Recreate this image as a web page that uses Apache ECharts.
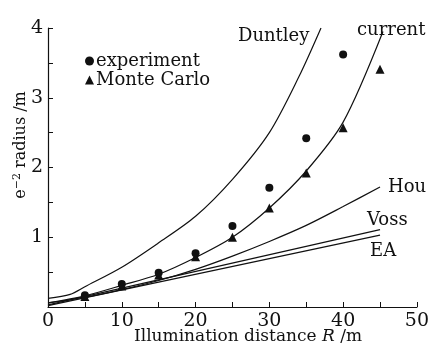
<!DOCTYPE html>
<html>
<head>
<meta charset="utf-8">
<script src="https://cdn.jsdelivr.net/npm/echarts@6/dist/echarts.min.js"></script>
<style>
  html, body { margin: 0; padding: 0; background: #fff; }
  #chart { width: 432px; height: 349px; }
</style>
</head>
<body>
<div id="chart"></div>
<script>
// measured points (R in m, radius in m)
const expR = [5, 10, 15, 20, 25, 30, 35, 40];
const expY = [0.17, 0.33, 0.49, 0.77, 1.16, 1.71, 2.42, 3.62];
const mcR = [5, 10, 15, 20, 25, 30, 35, 40, 45];
const mcY = [0.15, 0.3, 0.46, 0.72, 1.0, 1.42, 1.92, 2.57, 3.41];

// model curves
const duntleyR = [0, 3, 5, 10, 15, 20, 25, 30, 34, 37];
const duntleyY = [0.125, 0.18, 0.29, 0.57, 0.92, 1.3, 1.83, 2.5, 3.3, 4.0];
const currentR = [0, 5, 10, 15, 20, 25, 30, 35, 40, 45.4];
const currentY = [0.06, 0.16, 0.31, 0.47, 0.71, 1.0, 1.42, 1.95, 2.65, 3.95];
const houR = [0, 5, 10, 15, 20, 25, 30, 35, 40, 45];
const houY = [0.06, 0.14, 0.25, 0.38, 0.54, 0.73, 0.94, 1.17, 1.44, 1.72];
const vossR = [0, 45];
const vossY = [0.03, 1.11];
const eaR = [0, 45];
const eaY = [0.02, 1.03];

const FONT = "DejaVu Serif";
const INK = "#111";
const zip = (a, b) => a.map((v, i) => [v, b[i]]);

const curve = (name, xs, ys) => ({
  name: name,
  type: "line",
  data: zip(xs, ys),
  smooth: 0.3,
  showSymbol: false,
  silent: true,
  lineStyle: { color: INK, width: 1.2 },
  z: 2,
});

const label = (text, left, top) => ({
  type: "text", left: left, top: top,
  style: { text: text, font: "18px " + FONT, fill: INK },
});

const chart = echarts.init(document.getElementById("chart"));
chart.setOption({
  animation: false,
  grid: { left: 48, right: 11, top: 28, bottom: 42 },
  xAxis: {
    type: "value",
    min: 0,
    max: 50,
    interval: 5,
    axisLine: { lineStyle: { color: INK, width: 1.2 } },
    axisTick: { inside: true, length: 5, lineStyle: { color: INK } },
    axisLabel: {
      fontFamily: FONT, fontSize: 19, color: INK, margin: 5,
      formatter: (v) => (v % 10 === 0 ? String(v) : ""),
    },
    splitLine: { show: false },
  },
  yAxis: {
    type: "value",
    min: 0,
    max: 4,
    interval: 0.5,
    axisLine: { show: true, lineStyle: { color: INK, width: 1.2 } },
    axisTick: { inside: true, length: 5, lineStyle: { color: INK } },
    axisLabel: {
      fontFamily: FONT, fontSize: 19, color: INK, margin: 5,
      formatter: (v) => (v > 0 && v % 1 === 0 ? String(v) : ""),
    },
    splitLine: { show: false },
  },
  legend: {
    orient: "vertical",
    left: 80,
    top: 47,
    itemGap: 1,
    itemWidth: 9,
    itemHeight: 9,
    selectedMode: false,
    textStyle: { fontFamily: FONT, fontSize: 18, color: INK, padding: [0, 0, 0, -3] },
    data: [
      { name: "experiment", icon: "circle" },
      { name: "Monte Carlo", icon: "triangle" },
    ],
  },
  graphic: [
    label("Duntley", 238, 27),
    label("current", 357, 21),
    label("Hou", 388, 178),
    label("Voss", 367, 211),
    label("EA", 370, 242),
    {
      type: "text", x: 248, y: 337,
      style: {
        text: "Illumination distance {i|R} /m",
        font: "17px " + FONT, fill: INK, align: "center", verticalAlign: "middle",
        rich: { i: { font: "italic 17px " + FONT, fill: INK } },
      },
    },
    {
      type: "text", x: 21, y: 145, rotation: Math.PI / 2,
      style: {
        text: "e{s|−2} radius /m",
        font: "16px " + FONT, fill: INK, align: "center", verticalAlign: "middle",
        rich: { s: { font: "11px " + FONT, fill: INK, verticalAlign: "top", padding: [0, 0, 8, 0] } },
      },
    },
  ],
  series: [
    curve("Duntley", duntleyR, duntleyY),
    curve("current", currentR, currentY),
    curve("Hou", houR, houY),
    curve("Voss", vossR, vossY),
    curve("EA", eaR, eaY),
    {
      name: "experiment",
      type: "scatter",
      symbol: "circle",
      symbolSize: 8,
      data: zip(expR, expY),
      itemStyle: { color: INK, opacity: 1 },
      z: 3,
    },
    {
      name: "Monte Carlo",
      type: "scatter",
      symbol: "triangle",
      symbolSize: 9,
      data: zip(mcR, mcY),
      itemStyle: { color: INK, opacity: 1 },
      z: 3,
    },
  ],
});
</script>
</body>
</html>
